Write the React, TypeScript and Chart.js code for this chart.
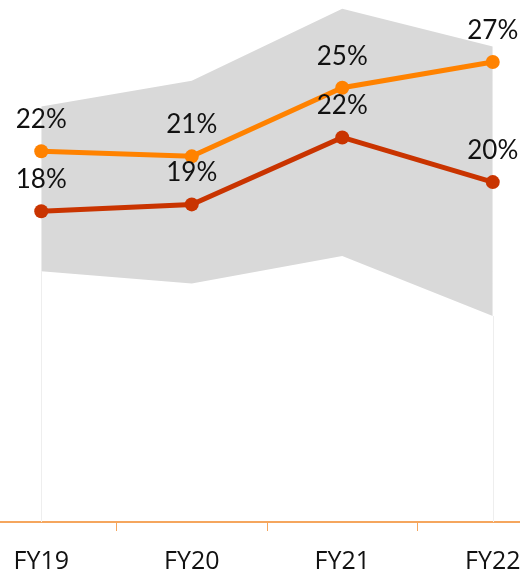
import React, { useEffect, useRef } from "react";
import { Chart, registerables } from "chart.js";

Chart.register(...registerables);

const categories = ["FY19", "FY20", "FY21", "FY22"];
const seriesOrange = [21.6, 21.3, 25.3, 26.8];
const seriesRed = [18.1, 18.5, 22.4, 19.8];
const bandUpper = [24.2, 25.7, 29.9, 27.7];
const bandLower = [14.6, 13.9, 15.5, 12.0];

const ORANGE = "#ff8200";
const RED = "#c93400";
const BAND = "#d9d9d9";
const AXIS = "#f5a65e";

const edgeLinesPlugin = {
  id: "edgeLines",
  beforeDatasetsDraw(chart: any) {
    const { ctx, chartArea, scales } = chart;
    const xs = scales.x;
    const ys = scales.y;
    const idx = [0, categories.length - 1];
    ctx.save();
    ctx.strokeStyle = "#eeeeee";
    ctx.lineWidth = 1;
    idx.forEach((i) => {
      const x = Math.round(xs.getPixelForValue(i)) + 0.5;
      const y0 = ys.getPixelForValue(bandLower[i]);
      ctx.beginPath();
      ctx.moveTo(x, y0);
      ctx.lineTo(x, chartArea.bottom);
      ctx.stroke();
    });
    ctx.restore();
  },
};

const valueLabelsPlugin = {
  id: "valueLabels",
  afterDatasetsDraw(chart: any) {
    const { ctx } = chart;
    ctx.save();
    ctx.font = "26px Lato";
    ctx.fillStyle = "#111111";
    ctx.textAlign = "center";
    ctx.textBaseline = "alphabetic";
    [0, 1].forEach((di) => {
      const meta = chart.getDatasetMeta(di);
      const data = chart.data.datasets[di].data as number[];
      meta.data.forEach((pt: any, i: number) => {
        ctx.fillText(Math.round(data[i]) + "%", pt.x, pt.y - 23);
      });
    });
    ctx.restore();
  },
};

export default function App() {
  const canvasRef = useRef<HTMLCanvasElement | null>(null);

  useEffect(() => {
    if (!canvasRef.current) return;
    const chart = new Chart(canvasRef.current, {
      type: "line",
      data: {
        labels: categories,
        datasets: [
          {
            label: "Orange",
            data: seriesOrange,
            borderColor: ORANGE,
            backgroundColor: ORANGE,
            borderWidth: 5,
            pointRadius: 7,
            pointBorderWidth: 0,
            pointBackgroundColor: ORANGE,
            fill: false,
            order: 1,
          },
          {
            label: "Red",
            data: seriesRed,
            borderColor: RED,
            backgroundColor: RED,
            borderWidth: 5,
            pointRadius: 7,
            pointBorderWidth: 0,
            pointBackgroundColor: RED,
            fill: false,
            order: 2,
          },
          {
            label: "Upper",
            data: bandUpper,
            borderWidth: 0,
            borderColor: "rgba(0,0,0,0)",
            backgroundColor: BAND,
            pointRadius: 0,
            fill: "+1",
            order: 3,
          },
          {
            label: "Lower",
            data: bandLower,
            borderWidth: 0,
            borderColor: "rgba(0,0,0,0)",
            backgroundColor: BAND,
            pointRadius: 0,
            fill: false,
            order: 4,
          },
        ],
      },
      options: {
        animation: false,
        responsive: true,
        maintainAspectRatio: false,
        layout: { padding: { top: 5, left: 0, right: 0, bottom: 0 } },
        plugins: {
          legend: { display: false },
          tooltip: { enabled: false },
        },
        scales: {
          x: {
            type: "category",
            offset: true,
            grid: {
              offset: true,
              drawOnChartArea: false,
              drawTicks: true,
              tickLength: 9,
              color: AXIS,
              lineWidth: 1,
            },
            border: { display: true, color: AXIS, width: 2 },
            ticks: {
              color: "#111111",
              font: { family: "'Open Sans'", size: 25 },
              padding: 16,
              maxRotation: 0,
            },
          },
          y: {
            display: false,
            min: 0,
            max: 30,
          },
        },
      },
      plugins: [edgeLinesPlugin, valueLabelsPlugin],
    });
    return () => chart.destroy();
  }, []);

  return (
    <div
      style={{
        position: "fixed",
        left: 0,
        top: 0,
        width: 520,
        height: 571,
        overflow: "hidden",
        background: "#ffffff",
      }}
    >
      <div style={{ position: "absolute", left: -41, top: 0, width: 616, height: 593 }}>
        <canvas ref={canvasRef} />
      </div>
    </div>
  );
}
